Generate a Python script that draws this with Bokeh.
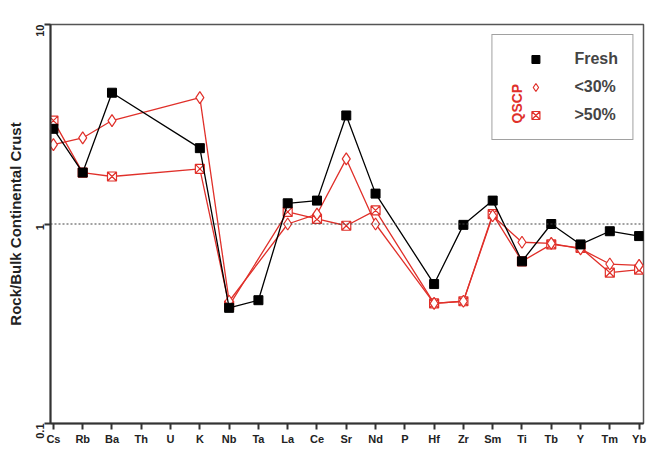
import math
from bokeh.plotting import figure
from bokeh.models import FixedTicker, Span, Legend, LegendItem, Label
from bokeh.embed import file_html
from bokeh.resources import INLINE

elements = ["Cs","Rb","Ba","Th","U","K","Nb","Ta","La","Ce","Sr","Nd","P","Hf","Zr","Sm","Ti","Tb","Y","Tm","Yb"]
fresh_el = ["Cs","Rb","Ba","K","Nb","Ta","La","Ce","Sr","Nd","Hf","Zr","Sm","Ti","Tb","Y","Tm","Yb"]
fresh = [3.0,1.81,4.55,2.4,0.38,0.415,1.27,1.31,3.5,1.42,0.50,0.99,1.31,0.65,1.0,0.79,0.92,0.87]
red_el = ["Cs","Rb","Ba","K","Nb","La","Ce","Sr","Nd","Hf","Zr","Sm","Ti","Tb","Y","Tm","Yb"]
lt30 = [2.5,2.7,3.3,4.3,0.41,1.0,1.12,2.12,1.0,0.40,0.41,1.1,0.81,0.80,0.75,0.63,0.62]
gt50 = [3.3,1.81,1.73,1.89,0.39,1.15,1.06,0.98,1.17,0.40,0.41,1.12,0.65,0.79,0.76,0.57,0.59]

RED = "#e0302a"
p = figure(width=651, height=447, y_axis_type="log", x_range=(-0.1, 20.15), y_range=(0.1, 10),
           output_backend="svg", toolbar_location=None,
           min_border_left=50, min_border_top=24, min_border_bottom=19, min_border_right=8)
p.outline_line_color = "#555"
p.outline_line_width = 1.5
p.grid.visible = False
idx = {e: i for i, e in enumerate(elements)}
fx = [idx[e] for e in fresh_el]
rx = [idx[e] for e in red_el]

p.add_layout(Span(location=1, dimension="width", line_color="#444", line_dash="2 2", line_width=1.2))

p.line(rx, gt50, color=RED, line_width=1.3)
r3 = p.scatter(rx, gt50, marker="square_x", size=9, fill_color="white", line_color=RED, line_width=1.2)
p.line(rx, lt30, color=RED, line_width=1.3)
r2 = p.scatter(rx, lt30, marker="diamond", size=12, fill_color="white", line_color=RED, line_width=1.2)
p.line(fx, fresh, color="black", line_width=1.3)
r1 = p.scatter(fx, fresh, marker="square", size=9, fill_color="black", line_color="black")

p.xaxis.ticker = FixedTicker(ticks=list(range(len(elements))))
p.xaxis.major_label_overrides = {i: e for i, e in enumerate(elements)}
p.yaxis.ticker = FixedTicker(ticks=[0.1, 1, 10], minor_ticks=[])
p.yaxis.major_label_overrides = {0.1: "0.1", 1: "1", 10: "10"}
p.yaxis.major_label_orientation = math.pi / 2
p.yaxis.axis_label = "Rock/Bulk Continental Crust"
for ax in (p.xaxis[0], p.yaxis[0]):
    ax.axis_line_width = 2
    ax.axis_line_color = "#333"
    ax.major_tick_line_width = 2
    ax.major_tick_line_color = "#333"
    ax.major_tick_out = 6
    ax.major_tick_in = 0
    ax.minor_tick_line_color = None
    ax.major_label_text_font = "Liberation Sans"
    ax.major_label_text_font_style = "bold"
    ax.major_label_text_font_size = "11px"
    ax.major_label_text_color = "#222"
p.yaxis.axis_label_text_font = "Liberation Sans"
p.yaxis.axis_label_text_font_style = "bold"
p.yaxis.axis_label_text_font_size = "15px"
p.yaxis.axis_label_text_color = "#222"
p.xaxis.major_label_standoff = 3

leg = Legend(items=[LegendItem(label="Fresh", renderers=[r1]),
                    LegendItem(label="<30%", renderers=[r2]),
                    LegendItem(label=">50%", renderers=[r3])],
             location="top_right", margin=10, padding=14, spacing=8,
             label_text_font="Liberation Sans", label_text_font_style="bold",
             label_text_font_size="16px", border_line_color="#444", border_line_width=1.5,
             background_fill_alpha=0,
             glyph_width=58, label_standoff=10)
p.add_layout(leg, "center")
p.add_layout(Label(x=474, y=300, x_units="screen", y_units="screen", level="overlay",
                   text="QSCP", angle=math.pi / 2, text_color=RED, text_font="Liberation Sans",
                   text_font_style="bold", text_font_size="14px"))

open("out.html", "w").write(file_html(p, INLINE))
